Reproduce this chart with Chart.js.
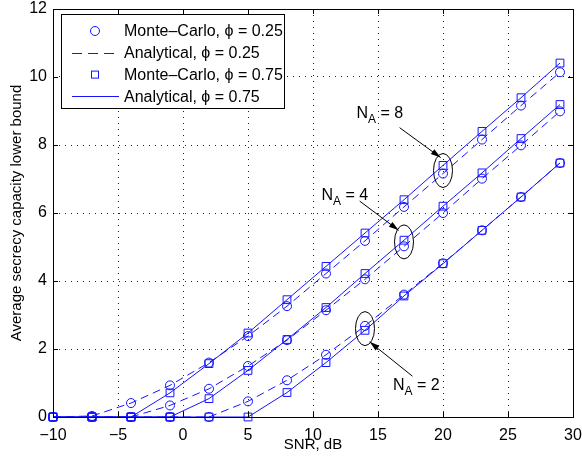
<!DOCTYPE html>
<html>
<head>
<meta charset="utf-8">
<script src="https://cdn.jsdelivr.net/npm/chart.js@4.4.0/dist/chart.umd.min.js"></script>
<style>
  html, body { margin: 0; padding: 0; background: #fff; }
</style>
</head>
<body>
<canvas id="chart" width="582" height="462"></canvas>
<script>
// SNR grid (dB)
const snr = [-10, -7, -4, -1, 2, 5, 8, 11, 14, 17, 20, 23, 26, 29];

// capacity lower bound, per number of eavesdropper antennas N_A and phi
const na8Phi025 = [0, 0.03, 0.41, 0.93, 1.60, 2.38, 3.26, 4.22, 5.18, 6.18, 7.16, 8.16, 9.16, 10.14];
const na8Phi075 = [0, 0, 0, 0.71, 1.57, 2.47, 3.45, 4.43, 5.41, 6.39, 7.40, 8.40, 9.39, 10.41];
const na4Phi025 = [0, 0, 0, 0.34, 0.83, 1.50, 2.26, 3.14, 4.05, 5.02, 6.00, 7.01, 7.99, 8.99];
const na4Phi075 = [0, 0, 0, 0, 0.54, 1.37, 2.28, 3.22, 4.22, 5.20, 6.20, 7.18, 8.19, 9.19];
const na2Phi025 = [0, 0, 0, 0, 0, 0.46, 1.08, 1.83, 2.68, 3.60, 4.52, 5.49, 6.47, 7.47];
const na2Phi075 = [0, 0, 0, 0, 0, 0, 0.72, 1.60, 2.55, 3.56, 4.51, 5.49, 6.47, 7.47];

const xTicks = [-10, -5, 0, 5, 10, 15, 20, 25, 30];
const yTicks = [0, 2, 4, 6, 8, 10, 12];

const legendLabels = ['Monte\u2013Carlo, \u03d5 = 0.25', 'Analytical, \u03d5 = 0.25',
                      'Monte\u2013Carlo, \u03d5 = 0.75', 'Analytical, \u03d5 = 0.75'];

// N_A callouts (data units): text, arrow start/end, ellipse centre
const notes = [
  { n: '8', tx: 13.34, ty: 8.79, ax: 16.66, ay: 8.51, bx: 19.82, by: 7.63, ex: 20, ey: 7.25 },
  { n: '4', tx: 10.65, ty: 6.37, ax: 13.59, ay: 6.35, bx: 16.59, by: 5.49, ex: 17, ey: 5.15 },
  { n: '2', tx: 16.15, ty: 0.79, ax: 17.65, ay: 1.20, bx: 14.36, by: 2.21, ex: 14, ey: 2.60 }
];

const blue = '#1414ff';
const font = "'Liberation Sans', Arial, Helvetica, sans-serif";

function pts(ys) { return snr.map((x, i) => ({ x: x, y: ys[i] })); }

function mc(ys, style) {
  return { data: pts(ys), showLine: false, pointStyle: style,
           pointRadius: style === 'circle' ? 4.5 : 5.5, pointBackgroundColor: 'rgba(0,0,0,0)',
           pointBorderColor: blue, pointBorderWidth: 1, clip: false };
}
function an(ys, dash) {
  return { data: pts(ys), borderColor: blue, borderWidth: 1, borderDash: dash,
           pointRadius: 0, tension: 0, fill: false, clip: false };
}

const datasets = [];
[[na8Phi025, na8Phi075], [na4Phi025, na4Phi075], [na2Phi025, na2Phi075]].forEach(g => {
  datasets.push(mc(g[0], 'circle'), an(g[0], [8, 5]), mc(g[1], 'rect'), an(g[1], []));
});

const decor = {
  id: 'decor',
  afterDraw(chart) {
    const ctx = chart.ctx, a = chart.chartArea;
    const xs = chart.scales.x, ys = chart.scales.y;
    ctx.save();
    // box + inward ticks
    ctx.strokeStyle = '#000'; ctx.lineWidth = 1;
    ctx.strokeRect(Math.round(a.left) + 0.5, Math.round(a.top) + 0.5,
                   Math.round(a.right - a.left), Math.round(a.bottom - a.top));
    ctx.beginPath();
    xTicks.forEach(v => {
      const p = Math.round(xs.getPixelForValue(v)) + 0.5;
      ctx.moveTo(p, a.bottom); ctx.lineTo(p, a.bottom - 5);
      ctx.moveTo(p, a.top); ctx.lineTo(p, a.top + 5);
    });
    yTicks.forEach(v => {
      const p = Math.round(ys.getPixelForValue(v)) + 0.5;
      ctx.moveTo(a.left, p); ctx.lineTo(a.left + 5, p);
      ctx.moveTo(a.right, p); ctx.lineTo(a.right - 5, p);
    });
    ctx.stroke();

    // legend
    const lx = 61.5, ly = 14.5, lw = 223, lh = 94;
    ctx.fillStyle = '#fff';
    ctx.fillRect(lx, ly, lw, lh);
    ctx.strokeRect(lx, ly, lw, lh);
    ctx.font = '16px ' + font;
    ctx.textBaseline = 'middle'; ctx.textAlign = 'left';
    legendLabels.forEach((t, i) => {
      const y = 31 + i * 21.8;
      ctx.strokeStyle = blue; ctx.lineWidth = 1;
      if (i === 0) { ctx.beginPath(); ctx.arc(95, y, 4.5, 0, Math.PI * 2); ctx.stroke(); }
      if (i === 2) { ctx.strokeRect(91.5, y - 3.5, 7, 7); }
      if (i === 1 || i === 3) {
        ctx.setLineDash(i === 1 ? [10, 6] : []);
        ctx.beginPath(); ctx.moveTo(72, Math.round(y) + 0.5); ctx.lineTo(119, Math.round(y) + 0.5); ctx.stroke();
        ctx.setLineDash([]);
      }
      ctx.fillStyle = '#000';
      ctx.fillText(t, 124, y + 1);
    });

    // N_A callouts
    ctx.strokeStyle = '#000'; ctx.fillStyle = '#000'; ctx.lineWidth = 1;
    notes.forEach(n => {
      const ex = xs.getPixelForValue(n.ex), ey = ys.getPixelForValue(n.ey);
      ctx.beginPath(); ctx.ellipse(ex, ey, 9.5, 17, 0, 0, Math.PI * 2); ctx.stroke();
      const x1 = xs.getPixelForValue(n.ax), y1 = ys.getPixelForValue(n.ay);
      const x2 = xs.getPixelForValue(n.bx), y2 = ys.getPixelForValue(n.by);
      ctx.beginPath(); ctx.moveTo(x1, y1); ctx.lineTo(x2, y2); ctx.stroke();
      const ang = Math.atan2(y2 - y1, x2 - x1);
      ctx.beginPath();
      ctx.moveTo(x2, y2);
      ctx.lineTo(x2 - 10 * Math.cos(ang) + 3 * Math.sin(ang), y2 - 10 * Math.sin(ang) - 3 * Math.cos(ang));
      ctx.lineTo(x2 - 10 * Math.cos(ang) - 3 * Math.sin(ang), y2 - 10 * Math.sin(ang) + 3 * Math.cos(ang));
      ctx.closePath(); ctx.fill();
      const tx = xs.getPixelForValue(n.tx), ty = ys.getPixelForValue(n.ty);
      ctx.textBaseline = 'alphabetic';
      ctx.font = '16px ' + font;
      ctx.fillText('N', tx, ty);
      const w = ctx.measureText('N').width;
      ctx.font = '12px ' + font;
      ctx.fillText('A', tx + w, ty + 5);
      const w2 = ctx.measureText('A').width;
      ctx.font = '16px ' + font;
      ctx.fillText(' = ' + n.n, tx + w + w2, ty);
    });
    ctx.restore();
  }
};

new Chart(document.getElementById('chart').getContext('2d'), {
  type: 'line',
  data: { datasets: datasets },
  plugins: [decor],
  options: {
    responsive: false,
    animation: false,
    devicePixelRatio: 1,
    layout: { padding: { top: 9, right: 9, left: 0, bottom: 0 } },
    plugins: { legend: { display: false }, tooltip: { enabled: false } },
    scales: {
      x: {
        type: 'linear', min: -10, max: 30,
        afterBuildTicks: s => { s.ticks = xTicks.map(v => ({ value: v })); },
        afterFit: s => { s.height = 45; s.paddingLeft = 0; s.paddingRight = 0; },
        ticks: { color: '#000', font: { family: font, size: 16 }, padding: 9,
                 callback: v => String(v).replace('-', '\u2212') },
        grid: { color: '#222', drawTicks: false, lineWidth: 1 },
        border: { display: false, dash: [1, 5] },
        title: { display: true, text: 'SNR, dB', color: '#000', font: { family: font, size: 15 }, padding: { top: 0, bottom: 8 } }
      },
      y: {
        type: 'linear', min: 0, max: 12,
        afterBuildTicks: s => { s.ticks = yTicks.map(v => ({ value: v })); },
        afterFit: s => { s.width = 53; s.paddingTop = 0; s.paddingBottom = 0; },
        ticks: { color: '#000', font: { family: font, size: 16 }, padding: 6 },
        grid: { color: '#222', drawTicks: false, lineWidth: 1 },
        border: { display: false, dash: [1, 5] },
        title: { display: true, text: 'Average secrecy capacity lower bound', color: '#000',
                 font: { family: font, size: 15 }, padding: { top: 8, bottom: 0 } }
      }
    }
  }
});
</script>
</body>
</html>
